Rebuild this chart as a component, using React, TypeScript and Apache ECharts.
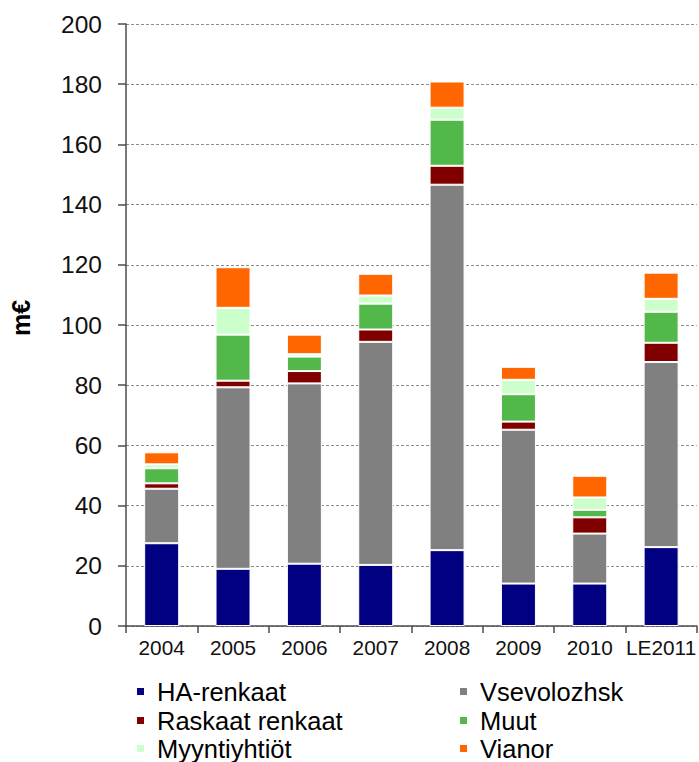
import React, { useEffect, useRef } from "react";
import * as echarts from "echarts";

const categories = ["2004", "2005", "2006", "2007", "2008", "2009", "2010", "LE2011"];
const seriesNames = ["HA-renkaat", "Vsevolozhsk", "Raskaat renkaat", "Muut", "Myyntiyhtiöt", "Vianor"];
const haRenkaat = [27.5, 19.0, 20.7, 20.3, 25.2, 14.1, 14.1, 26.2];
const vsevolozhsk = [18.1, 60.3, 59.9, 74.1, 121.4, 51.1, 16.6, 61.5];
const raskaatRenkaat = [1.8, 2.2, 4.1, 4.1, 6.3, 2.7, 5.4, 6.4];
const muut = [5.0, 15.3, 4.8, 8.6, 15.3, 9.1, 2.5, 10.3];
const myyntiyhtiot = [1.3, 8.9, 0.8, 2.7, 4.0, 4.8, 4.1, 4.3];
const vianor = [4.0, 13.5, 6.5, 7.2, 8.7, 4.3, 7.2, 8.7];
const yTicks = { min: 0, max: 200, interval: 20 };
const colors = ["#000080", "#808080", "#800000", "#52B84A", "#CCFFCC", "#FF6600"];

const FONT = "'Liberation Sans', Arial, sans-serif";

export default function App() {
  const ref = useRef<HTMLDivElement>(null);
  useEffect(() => {
    if (!ref.current) return;
    const chart = echarts.init(ref.current, undefined, { renderer: "svg" });
    const values = [haRenkaat, vsevolozhsk, raskaatRenkaat, muut, myyntiyhtiot, vianor];
    const legendPos: [number, number][] = [
      [135, 691],
      [458, 691],
      [135, 720],
      [458, 720],
      [135, 748],
      [458, 748],
    ];
    const legends = seriesNames.map((name, i) => ({
      data: [name],
      left: legendPos[i][0],
      top: legendPos[i][1] - 12.5,
      padding: 0,
      orient: "horizontal",
      icon: "rect",
      itemWidth: 9,
      itemHeight: 9,
      selectedMode: false,
      textStyle: {
        fontFamily: FONT,
        fontSize: 25.5,
        color: "#000",
        lineHeight: 25,
        padding: [0, 0, 0, 7],
      },
    }));
    chart.setOption({
      animation: false,
      backgroundColor: "#fff",
      textStyle: { fontFamily: FONT },
      grid: { left: 124, right: 1, top: 24, bottom: 136, containLabel: false },
      legend: legends,
      xAxis: {
        type: "category",
        data: categories,
        axisLine: { lineStyle: { color: "#4d4d4d", width: 1.5 } },
        axisTick: { show: true, interval: 0, length: 7, inside: false, lineStyle: { color: "#4d4d4d", width: 1.5 } },
        axisLabel: { interval: 0, fontFamily: FONT, fontSize: 20.8, color: "#111", margin: 11 },
      },
      yAxis: {
        type: "value",
        min: yTicks.min,
        max: yTicks.max,
        interval: yTicks.interval,
        name: "m€",
        nameLocation: "middle",
        nameRotate: 90,
        nameGap: 93,
        nameTextStyle: { fontFamily: FONT, fontSize: 25, fontWeight: "bold", color: "#000", padding: [0, 0, 0, 14] },
        axisLine: { show: true, lineStyle: { color: "#4d4d4d", width: 1.5 } },
        axisTick: { show: true, length: 8, lineStyle: { color: "#4d4d4d", width: 1.5 } },
        axisLabel: { fontFamily: FONT, fontSize: 24.5, color: "#111", margin: 24 },
        splitLine: { show: true, lineStyle: { color: "#8c8c8c", width: 1, type: [3, 2] } },
      },
      series: seriesNames.map((name, i) => ({
        name,
        type: "bar",
        stack: "total",
        barWidth: 35,
        data: values[i],
        itemStyle: { color: colors[i], borderColor: "#fff", borderWidth: 1 },
      })),
    });
    return () => chart.dispose();
  }, []);
  return <div ref={ref} style={{ width: 699, height: 762, position: "absolute", left: 0, top: 0 }} />;
}
